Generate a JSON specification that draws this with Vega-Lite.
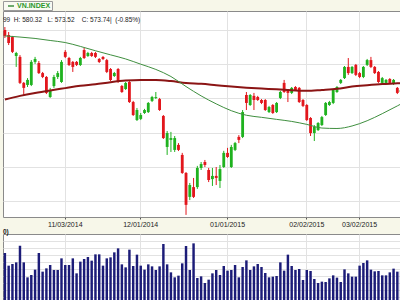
{
"$schema": "https://vega.github.io/schema/vega-lite/v6.json",
"background": "#f7f7e9",
"padding": 0,
"spacing": 0,
"config": {"font": "Liberation Sans", "view": {"stroke": "#8a8a8a"}},
"datasets": {"d": [
{"d":"10/10/2014","o":600.0,"h":601.3,"l":596.5,"c":597.4,"v":102.0,"m1":597.4,"m2":569.5},
{"d":"10/13/2014","o":597.8,"h":599.1,"l":593.4,"c":594.3,"v":76.7},
{"d":"10/14/2014","o":596.9,"h":597.4,"l":589.9,"c":590.4,"v":80.0},
{"d":"10/15/2014","o":588.6,"h":590.4,"l":583.8,"c":589.9,"v":83.3},
{"d":"10/16/2014","o":588.2,"h":589.0,"l":576.3,"c":576.8,"v":116.7,"m1":596.9,"m2":571.1},
{"d":"10/17/2014","o":576.8,"h":577.2,"l":571.5,"c":574.6,"v":83.3},
{"d":"10/20/2014","o":575.9,"h":578.9,"l":575.0,"c":578.1,"v":53.3},
{"d":"10/21/2014","o":575.9,"h":586.8,"l":575.4,"c":586.0,"v":58.0},
{"d":"10/22/2014","o":586.0,"h":588.2,"l":585.1,"c":587.3,"v":68.7,"m1":596.3,"m2":572.4},
{"d":"10/23/2014","o":585.5,"h":586.4,"l":580.7,"c":581.1,"v":102.0},
{"d":"10/24/2014","o":581.1,"h":581.6,"l":578.9,"c":579.4,"v":64.7},
{"d":"10/27/2014","o":579.4,"h":579.8,"l":571.9,"c":572.4,"v":71.3},
{"d":"10/28/2014","o":570.6,"h":574.6,"l":570.2,"c":573.7,"v":78.0,"m1":595.4,"m2":573.5},
{"d":"10/29/2014","o":575.4,"h":580.3,"l":574.6,"c":579.4,"v":68.0},
{"d":"10/30/2014","o":579.4,"h":582.0,"l":578.5,"c":581.1,"v":68.0},
{"d":"10/31/2014","o":577.2,"h":586.8,"l":576.8,"c":586.0,"v":91.3},
{"d":"11/03/2014","o":590.4,"h":591.2,"l":587.7,"c":588.2,"v":78.0,"m1":594.5,"m2":574.5},
{"d":"11/04/2014","o":587.7,"h":588.2,"l":584.2,"c":584.7,"v":78.0},
{"d":"11/05/2014","o":586.0,"h":586.4,"l":581.6,"c":583.8,"v":91.3},
{"d":"11/06/2014","o":586.0,"h":586.4,"l":584.2,"c":584.7,"v":61.3},
{"d":"11/07/2014","o":584.7,"h":588.2,"l":584.2,"c":587.7,"v":84.7,"m1":592.8,"m2":575.5},
{"d":"11/10/2014","o":591.2,"h":592.1,"l":587.3,"c":587.7,"v":90.0},
{"d":"11/11/2014","o":588.6,"h":590.4,"l":588.2,"c":589.9,"v":94.0},
{"d":"11/12/2014","o":589.9,"h":590.4,"l":588.2,"c":588.6,"v":86.7},
{"d":"11/13/2014","o":589.9,"h":590.4,"l":587.7,"c":588.2,"v":99.3,"m1":590.9,"m2":576.2},
{"d":"11/14/2014","o":587.3,"h":587.7,"l":585.5,"c":586.0,"v":99.3},
{"d":"11/17/2014","o":588.2,"h":588.6,"l":586.8,"c":587.3,"v":76.7},
{"d":"11/18/2014","o":586.8,"h":587.3,"l":581.1,"c":581.6,"v":91.3},
{"d":"11/19/2014","o":582.9,"h":583.3,"l":577.6,"c":578.1,"v":93.3,"m1":589.1,"m2":577.1},
{"d":"11/20/2014","o":579.8,"h":581.6,"l":579.4,"c":581.1,"v":103.3},
{"d":"11/21/2014","o":582.9,"h":583.3,"l":576.8,"c":577.2,"v":111.3},
{"d":"11/24/2014","o":575.4,"h":575.9,"l":572.4,"c":572.8,"v":79.3},
{"d":"11/25/2014","o":574.1,"h":577.2,"l":573.7,"c":576.8,"v":73.3,"m1":587.3,"m2":577.8},
{"d":"11/26/2014","o":577.2,"h":577.6,"l":568.0,"c":568.4,"v":108.7},
{"d":"11/27/2014","o":568.4,"h":568.9,"l":562.3,"c":562.7,"v":76.0},
{"d":"11/28/2014","o":560.5,"h":565.8,"l":560.1,"c":564.9,"v":98.7},
{"d":"12/01/2014","o":561.0,"h":563.6,"l":560.5,"c":562.7,"v":76.7,"m1":585.0,"m2":578.1},
{"d":"12/02/2014","o":563.6,"h":565.4,"l":563.2,"c":564.9,"v":68.7},
{"d":"12/03/2014","o":564.0,"h":568.4,"l":563.6,"c":568.0,"v":79.3},
{"d":"12/04/2014","o":568.9,"h":571.1,"l":568.4,"c":570.6,"v":75.3},
{"d":"12/05/2014","o":570.2,"h":572.8,"l":569.7,"c":570.6,"v":68.0,"m1":582.7,"m2":578.1},
{"d":"12/08/2014","o":569.7,"h":570.2,"l":564.5,"c":564.9,"v":75.3},
{"d":"12/09/2014","o":562.3,"h":562.7,"l":552.2,"c":552.6,"v":120.0},
{"d":"12/10/2014","o":548.7,"h":555.7,"l":545.2,"c":554.8,"v":79.3},
{"d":"12/11/2014","o":551.8,"h":555.3,"l":546.5,"c":552.6,"v":63.3,"m1":579.6,"m2":577.6},
{"d":"12/12/2014","o":547.4,"h":553.5,"l":546.5,"c":552.6,"v":53.3},
{"d":"12/15/2014","o":549.6,"h":550.4,"l":546.9,"c":547.4,"v":56.7},
{"d":"12/16/2014","o":545.2,"h":546.1,"l":536.9,"c":537.3,"v":81.3},
{"d":"12/17/2014","o":537.3,"h":537.7,"l":518.9,"c":523.3,"v":116.0,"m1":575.2,"m2":576.7},
{"d":"12/18/2014","o":526.8,"h":532.9,"l":525.4,"c":532.0,"v":68.0},
{"d":"12/19/2014","o":531.1,"h":535.1,"l":526.3,"c":526.8,"v":121.3},
{"d":"12/22/2014","o":531.1,"h":540.4,"l":530.3,"c":539.5,"v":52.0},
{"d":"12/23/2014","o":539.5,"h":542.1,"l":538.6,"c":541.2,"v":55.3,"m1":571.1,"m2":576.4},
{"d":"12/24/2014","o":542.1,"h":543.0,"l":539.9,"c":540.8,"v":42.0},
{"d":"12/25/2014","o":538.6,"h":539.5,"l":533.3,"c":534.2,"v":48.7},
{"d":"12/26/2014","o":534.6,"h":539.5,"l":531.6,"c":536.0,"v":61.3},
{"d":"12/29/2014","o":536.0,"h":539.9,"l":532.0,"c":535.1,"v":68.0,"m1":567.6,"m2":575.8},
{"d":"12/30/2014","o":533.8,"h":540.8,"l":530.7,"c":539.0,"v":58.0},
{"d":"12/31/2014","o":539.9,"h":547.0,"l":539.5,"c":546.1,"v":76.0},
{"d":"01/01/2015","o":546.1,"h":548.3,"l":543.9,"c":544.3,"v":66.7},
{"d":"01/05/2015","o":539.9,"h":549.6,"l":539.5,"c":548.7,"v":68.0,"m1":564.6,"m2":575.2},
{"d":"01/06/2015","o":547.4,"h":550.9,"l":546.9,"c":550.4,"v":78.0},
{"d":"01/07/2015","o":553.1,"h":553.9,"l":550.4,"c":551.8,"v":53.3},
{"d":"01/08/2015","o":553.1,"h":564.9,"l":552.6,"c":564.0,"v":74.0},
{"d":"01/09/2015","o":571.5,"h":572.8,"l":564.9,"c":568.0,"v":87.3,"m1":562.6,"m2":574.7},
{"d":"01/12/2015","o":567.1,"h":571.9,"l":566.7,"c":571.5,"v":68.0},
{"d":"01/13/2015","o":571.1,"h":572.4,"l":564.9,"c":569.3,"v":75.3},
{"d":"01/14/2015","o":570.6,"h":571.1,"l":568.9,"c":569.3,"v":80.0},
{"d":"01/15/2015","o":569.3,"h":569.7,"l":567.5,"c":568.0,"v":74.0,"m1":561.7,"m2":574.3},
{"d":"01/16/2015","o":569.3,"h":569.7,"l":564.5,"c":564.9,"v":62.0},
{"d":"01/19/2015","o":564.0,"h":566.7,"l":563.6,"c":566.2,"v":53.3},
{"d":"01/20/2015","o":567.1,"h":567.5,"l":563.2,"c":563.6,"v":54.7},
{"d":"01/21/2015","o":564.0,"h":568.4,"l":563.6,"c":568.0,"v":56.0,"m1":560.8,"m2":574.0},
{"d":"01/22/2015","o":570.2,"h":573.3,"l":569.7,"c":572.8,"v":83.3},
{"d":"01/23/2015","o":576.8,"h":578.1,"l":572.4,"c":572.8,"v":66.7},
{"d":"01/26/2015","o":573.7,"h":574.1,"l":568.4,"c":572.4,"v":98.7},
{"d":"01/27/2015","o":572.4,"h":575.0,"l":571.9,"c":574.6,"v":76.0,"m1":559.9,"m2":573.6},
{"d":"01/28/2015","o":575.0,"h":575.4,"l":573.3,"c":573.7,"v":68.0},
{"d":"01/29/2015","o":574.6,"h":575.0,"l":568.0,"c":568.4,"v":70.0},
{"d":"01/30/2015","o":569.3,"h":569.7,"l":566.2,"c":566.7,"v":48.0},
{"d":"02/02/2015","o":567.1,"h":567.5,"l":560.1,"c":560.5,"v":68.0,"m1":558.6,"m2":573.3},
{"d":"02/03/2015","o":561.4,"h":561.8,"l":553.5,"c":554.8,"v":66.0},
{"d":"02/04/2015","o":554.8,"h":558.3,"l":551.3,"c":557.5,"v":50.0},
{"d":"02/05/2015","o":556.1,"h":559.6,"l":555.7,"c":559.2,"v":42.0},
{"d":"02/06/2015","o":558.3,"h":562.3,"l":557.9,"c":561.8,"v":44.7,"m1":557.0,"m2":573.7},
{"d":"02/09/2015","o":562.7,"h":568.4,"l":562.3,"c":568.0,"v":44.0},
{"d":"02/10/2015","o":567.1,"h":568.9,"l":566.7,"c":568.4,"v":51.3},
{"d":"02/11/2015","o":568.0,"h":574.1,"l":567.5,"c":573.7,"v":57.3},
{"d":"02/12/2015","o":572.8,"h":575.4,"l":572.4,"c":575.0,"v":52.7,"m1":556.8,"m2":574.2},
{"d":"02/13/2015","o":576.8,"h":578.5,"l":576.3,"c":578.1,"v":44.0},
{"d":"02/24/2015","o":578.9,"h":584.2,"l":578.5,"c":583.8,"v":69.3},
{"d":"02/25/2015","o":583.8,"h":587.7,"l":580.3,"c":581.1,"v":61.3},
{"d":"02/26/2015","o":581.1,"h":584.2,"l":580.7,"c":583.8,"v":54.7,"m1":557.9,"m2":575.2},
{"d":"02/27/2015","o":584.7,"h":585.1,"l":579.8,"c":580.3,"v":54.7},
{"d":"03/02/2015","o":581.1,"h":581.6,"l":578.9,"c":579.4,"v":76.7},
{"d":"03/03/2015","o":579.4,"h":584.2,"l":578.9,"c":583.8,"v":82.0},
{"d":"03/04/2015","o":584.7,"h":587.3,"l":584.2,"c":586.8,"v":87.3,"m1":560.2,"m2":575.8},
{"d":"03/05/2015","o":586.8,"h":588.2,"l":583.3,"c":583.8,"v":68.7},
{"d":"03/06/2015","o":583.8,"h":584.2,"l":580.7,"c":581.1,"v":65.3},
{"d":"03/09/2015","o":581.6,"h":582.0,"l":576.8,"c":577.2,"v":66.0},
{"d":"03/10/2015","o":576.8,"h":579.4,"l":576.3,"c":578.9,"v":57.3,"m1":563.3,"m2":576.3},
{"d":"03/11/2015","o":576.8,"h":578.5,"l":576.3,"c":578.1,"v":57.3},
{"d":"03/12/2015","o":578.5,"h":578.9,"l":576.3,"c":576.8,"v":63.3},
{"d":"03/13/2015","o":576.3,"h":578.5,"l":575.9,"c":578.1,"v":70.7},
{"d":"03/16/2015","o":574.6,"h":575.0,"l":571.9,"c":572.4,"v":64.7,"m1":566.7,"m2":576.6},
{"d":"03/17/2015","o":572.8,"h":574.1,"l":572.4,"c":573.7,"v":65.3,"m1":567.6,"m2":576.7}
]},
"vconcat": [
{
"width": 400, "height": 206,
"view": {"fill": "white", "stroke": "#8a8a8a"},
"data": {"name": "d"},
"title": {"text": "99\u00a0\u00a0H:\u00a0580.32\u00a0\u00a0\u00a0L:\u00a0573.52\u00a0\u00a0\u00a0\u00a0C:\u00a0573.74|\u00a0\u00a0(-0.85%)", "anchor": "start", "frame": "group", "fontSize": 6.5, "fontWeight": "normal", "color": "#222222", "offset": -17, "baseline": "alphabetic", "font": "Liberation Sans"},
"encoding": {
  "x": {"field": "d", "type": "ordinal", "sort": null, "title": null,
        "scale": {"paddingInner": 0, "paddingOuter": 0},
        "axis": {"values": ["11/03/2014", "12/01/2014", "01/01/2015", "02/02/2015", "03/02/2015"], "bandPosition": 0.5, "grid": true, "gridColor": "#e2e2e2", "domain": false, "tickSize": 2, "tickColor": "#555555", "labelAngle": 0, "labelFontSize": 7, "labelColor": "#222222", "labelPadding": 1, "labelFont": "Liberation Sans"}}
},
"layer": [
  {"mark": {"type": "rule", "strokeWidth": 1},
   "encoding": {
     "y": {"field": "l", "type": "quantitative", "title": null, "scale": {"domain": [517.98, 608.33], "nice": false, "zero": false},
           "axis": {"orient": "right", "values": [525, 540, 555, 570, 585, 600], "grid": true, "gridColor": "#e2e2e2", "labels": false, "ticks": false, "domain": false}},
     "y2": {"field": "h"},
     "color": {"condition": {"test": "datum.c >= datum.o", "value": "#1fb21f"}, "value": "#e2161c"}
   }},
  {"mark": {"type": "bar", "width": {"band": 0.75}},
   "encoding": {
     "y": {"field": "o", "type": "quantitative", "title": null,
           "axis": {"orient": "right", "values": [525, 540, 555, 570, 585, 600], "grid": true, "gridColor": "#e2e2e2", "labels": false, "ticks": false, "domain": false}},
     "y2": {"field": "c"},
     "color": {"condition": {"test": "datum.c >= datum.o", "value": "#1fb21f"}, "value": "#e2161c"}
   }},
  {"transform": [{"filter": "datum.m2 != null"}],
   "mark": {"type": "line", "strokeWidth": 2, "color": "#8b1414", "interpolate": "monotone"},
   "encoding": {
     "y": {"field": "m2", "type": "quantitative", "title": null,
           "axis": {"orient": "right", "values": [525, 540, 555, 570, 585, 600], "grid": true, "gridColor": "#e2e2e2", "labels": false, "ticks": false, "domain": false}}
   }},
  {"transform": [{"filter": "datum.m1 != null"}],
   "mark": {"type": "line", "strokeWidth": 1, "interpolate": "monotone"},
   "encoding": {
     "y": {"field": "m1", "type": "quantitative", "title": null,
           "axis": {"orient": "right", "values": [525, 540, 555, 570, 585, 600], "grid": true, "gridColor": "#e2e2e2", "labels": false, "ticks": false, "domain": false}},
     "color": {"datum": "VN.INDEX", "scale": {"range": ["#3f8f3f"]},
               "legend": {"orient": "none", "legendX": 0, "legendY": -10, "title": null, "padding": 1, "strokeColor": "#9a9a9a", "fillColor": "#f9faf2", "labelFontSize": 7, "labelFontWeight": "bold", "labelColor": "#2a962a", "labelFont": "Liberation Sans", "symbolType": "stroke", "symbolStrokeWidth": 1.5, "symbolSize": 36, "symbolOffset": 3, "labelOffset": 2, "cornerRadius": 0}}
   }}
]
},
{
"width": 400, "height": 70,
"view": {"fill": "white", "stroke": "#8a8a8a"},
"data": {"name": "d"},
"title": {"text": "0)", "anchor": "start", "frame": "group", "fontSize": 6.5, "fontWeight": "bold", "color": "#222222", "offset": -6, "baseline": "alphabetic", "font": "Liberation Sans"},
"mark": {"type": "bar", "width": {"band": 0.65}, "color": "#1c1c78"},
"encoding": {
  "x": {"field": "d", "type": "ordinal", "sort": null, "title": null,
        "scale": {"paddingInner": 0, "paddingOuter": 0},
        "axis": {"values": ["11/03/2014", "12/01/2014", "01/01/2015", "02/02/2015", "03/02/2015"], "bandPosition": 0.5, "grid": true, "gridColor": "#e2e2e2", "domain": false, "ticks": false, "labels": false}},
  "y": {"field": "v", "type": "quantitative", "title": null, "scale": {"domain": [0, 140], "nice": false},
        "axis": {"orient": "right", "values": [14, 28, 42, 56, 70, 84, 98, 112, 126], "grid": true, "gridColor": "#e2e2e2", "labels": false, "ticks": false, "domain": false}}
}
}
]
}
